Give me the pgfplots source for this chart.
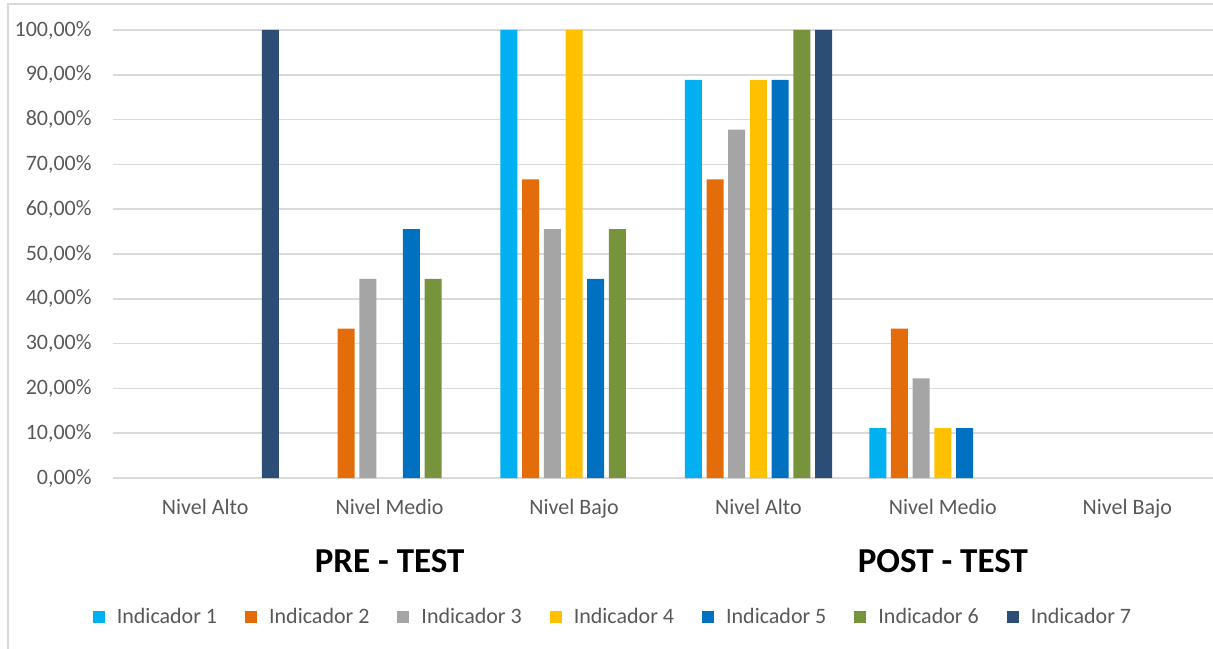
\documentclass[border=0pt]{standalone}
\usepackage{pgfplots}
\pgfplotsset{compat=1.18}
\usepackage{fontspec}
\setmainfont{Carlito}

\definecolor{ind1}{HTML}{00B0F0}
\definecolor{ind2}{HTML}{E46C0A}
\definecolor{ind3}{HTML}{A5A5A5}
\definecolor{ind4}{HTML}{FFC000}
\definecolor{ind5}{HTML}{0070C0}
\definecolor{ind6}{HTML}{77933C}
\definecolor{ind7}{HTML}{2C4D75}
\definecolor{txtgrey}{HTML}{595959}
\definecolor{gridgrey}{HTML}{D9D9D9}

\begin{document}
\begin{tikzpicture}
  % page = 1213 x 649 px, 1 px = 0.5 bp; axis box starts at (113,478) px
  \path[use as bounding box] (-56.5bp,-85.5bp) rectangle (550bp,239bp);
  \draw[gridgrey, line width=0.75bp] (-52.5bp,-90bp) -- (-52.5bp,237bp) -- (555bp,237bp);
  \begin{axis}[
      at={(0,0)}, anchor=south west,
      scale only axis,
      width=550bp, height=224bp,
      ybar=2.35bp, bar width=8.5bp,
      xmin=-0.5, xmax=5.465,
      ymin=0, ymax=100,
      clip=false,
      axis line style={draw=none},
      tick style={draw=none},
      ymajorgrids,
      major grid style={gridgrey, line width=0.75bp},
      ytick={0,10,...,100},
      yticklabels={{0,00\%},{10,00\%},{20,00\%},{30,00\%},{40,00\%},{50,00\%},{60,00\%},{70,00\%},{80,00\%},{90,00\%},{100,00\%}},
      yticklabel style={anchor=east, inner sep=0pt, xshift=-10.5bp, font=\fontsize{11bp}{13bp}\selectfont, text=txtgrey},
      xtick={0,1,2,3,4,5},
      xticklabels={Nivel Alto, Nivel Medio, Nivel Bajo, Nivel Alto, Nivel Medio, Nivel Bajo},
      xticklabel style={anchor=base, inner sep=0pt, yshift=-14bp, font=\fontsize{11bp}{13bp}\selectfont, text=txtgrey},
      legend columns=7,
      legend image code/.code={\fill[#1] (0bp,-3bp) rectangle (6bp,3bp);},
      legend style={draw=none, at={(axis description cs:0.4536,-0.31)}, anchor=center,
        font=\fontsize{11bp}{13bp}\selectfont, text=txtgrey,
        nodes={inner sep=0pt},
        /tikz/every odd column/.append style={column sep=6bp},
        /tikz/every even column/.append style={column sep=14bp}},
    ]
    \addplot[fill=ind1, draw=none] coordinates {(2,100) (3,88.89) (4,11.11)};
    \addlegendentry{Indicador 1}
    \addplot[fill=ind2, draw=none] coordinates {(1,33.33) (2,66.67) (3,66.67) (4,33.33)};
    \addlegendentry{Indicador 2}
    \addplot[fill=ind3, draw=none] coordinates {(1,44.44) (2,55.56) (3,77.78) (4,22.22)};
    \addlegendentry{Indicador 3}
    \addplot[fill=ind4, draw=none] coordinates {(2,100) (3,88.89) (4,11.11)};
    \addlegendentry{Indicador 4}
    \addplot[fill=ind5, draw=none] coordinates {(1,55.56) (2,44.44) (3,88.89) (4,11.11)};
    \addlegendentry{Indicador 5}
    \addplot[fill=ind6, draw=none] coordinates {(1,44.44) (2,55.56) (3,100)};
    \addlegendentry{Indicador 6}
    \addplot[fill=ind7, draw=none] coordinates {(0,100) (3,100)};
    \addlegendentry{Indicador 7}
    \node[font=\fontsize{17.5bp}{20bp}\selectfont\bfseries] at ([yshift=-41.5bp]axis cs:1,0) {PRE - TEST};
    \node[font=\fontsize{17.5bp}{20bp}\selectfont\bfseries] at ([yshift=-41.5bp]axis cs:4,0) {POST - TEST};
  \end{axis}
\end{tikzpicture}
\end{document}
